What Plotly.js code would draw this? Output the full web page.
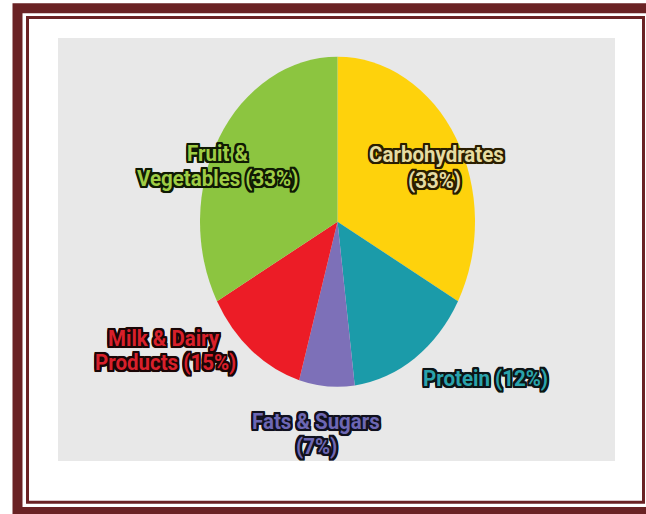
<!DOCTYPE html>
<html><head><meta charset="utf-8">
<script src="https://cdn.plot.ly/plotly-3.0.1.min.js"></script>
<style>html,body{margin:0;padding:0;background:#fff}#chart{width:646px;height:514px}</style>
</head><body><div id="chart"></div>
<script>
// ---- data ----
const categories = ['Carbohydrates', 'Protein', 'Fats & Sugars', 'Milk & Dairy Products', 'Fruit & Vegetables'];
const values = [33, 15, 6.5, 12.5, 33];
const sliceColors = ['#fed20c', '#1b9ba9', '#7d70b8', '#ec1c26', '#8cc540'];
const labelLines = [
  ['Carbohydrates', '(33%)'],
  ['Protein (12%)'],
  ['Fats & Sugars', '(7%)'],
  ['Milk & Dairy', 'Products (15%)'],
  ['Fruit &', 'Vegetables (33%)']
];
const textColors = ['#e6dca2', '#2aa3ac', '#6d67b3', '#d8202b', '#9fcd45'];
const outlineColors = ['#2a1e00', '#0c1416', '#10101e', '#1a0606', '#101a04'];
// label line centres in pixels (style)
const labelPos = [
  [[436, 154], [434, 180]],
  [[485, 378]],
  [[316, 421], [316, 446]],
  [[164, 338], [165, 362]],
  [[217, 153], [217, 178]]
];

const W = 646, H = 514;
const px = x => x / W, py = y => 1 - y / H;
const cx = 337.5, cy = 221.7, r = 137.5, stretch = 1.2, textStretch = 1.12;

function outline(c, w) {
  const s = [];
  for (let dx = -w; dx <= w; dx++) for (let dy = -w; dy <= w; dy++) {
    if (dx === 0 && dy === 0) continue;
    s.push(dx + 'px ' + dy + 'px 0 ' + c);
  }
  s.push('0 0 3px ' + c);
  return s.join(', ');
}

const annotations = [];
labelLines.forEach((lines, i) => {
  lines.forEach((t, j) => {
    annotations.push({
      xref: 'paper', yref: 'paper', x: px(labelPos[i][j][0]), y: py(labelPos[i][j][1]),
      text: t, showarrow: false, xanchor: 'center', yanchor: 'middle',
      font: {family: 'Roboto, Arial, sans-serif', size: 20.5, weight: 700, color: textColors[i],
             shadow: outline(outlineColors[i], 2)}
    });
  });
});

const trace = {
  type: 'pie', values: values, labels: categories, sort: false, direction: 'clockwise', rotation: 0,
  marker: {colors: sliceColors, line: {width: 0}}, textinfo: 'none', hoverinfo: 'skip', showlegend: false,
  domain: {x: [px(cx - r), px(cx + r)], y: [py(cy + r), py(cy - r)]}
};

const layout = {
  width: W, height: H, margin: {l: 0, r: 0, t: 0, b: 0}, paper_bgcolor: '#ffffff', showlegend: false,
  shapes: [
    {type: 'rect', xref: 'paper', yref: 'paper', x0: px(58), x1: px(615), y0: py(461), y1: py(38),
     fillcolor: '#e8e8e8', line: {width: 0}, layer: 'below'},
    {type: 'rect', xref: 'paper', yref: 'paper', x0: px(17.5), x1: px(656), y0: py(512), y1: py(8.3),
     line: {width: 10, color: '#6a2224'}, layer: 'below'},
    {type: 'rect', xref: 'paper', yref: 'paper', x0: px(27.5), x1: px(643.5), y0: py(502.2), y1: py(17.5),
     line: {width: 3, color: '#6a2224'}, layer: 'below'}
  ],
  annotations: annotations
};

Plotly.newPlot('chart', [trace], layout, {staticPlot: true, displayModeBar: false}).then(gd => {
  const pl = gd.querySelector('.pielayer');
  if (pl) {
    const prev = pl.getAttribute('transform') || '';
    pl.setAttribute('transform', 'translate(' + cx + ',' + cy + ') scale(1,' + stretch + ') translate(' + (-cx) + ',' + (-cy) + ') ' + prev);
  }
  gd.querySelectorAll('.annotation').forEach(a => {
    const b = a.getBBox();
    const ax = b.x + b.width / 2, ay = b.y + b.height / 2;
    a.setAttribute('transform', 'translate(' + ax + ',' + ay + ') scale(1,' + textStretch + ') translate(' + (-ax) + ',' + (-ay) + ')');
  });
});
</script>
</body></html>
